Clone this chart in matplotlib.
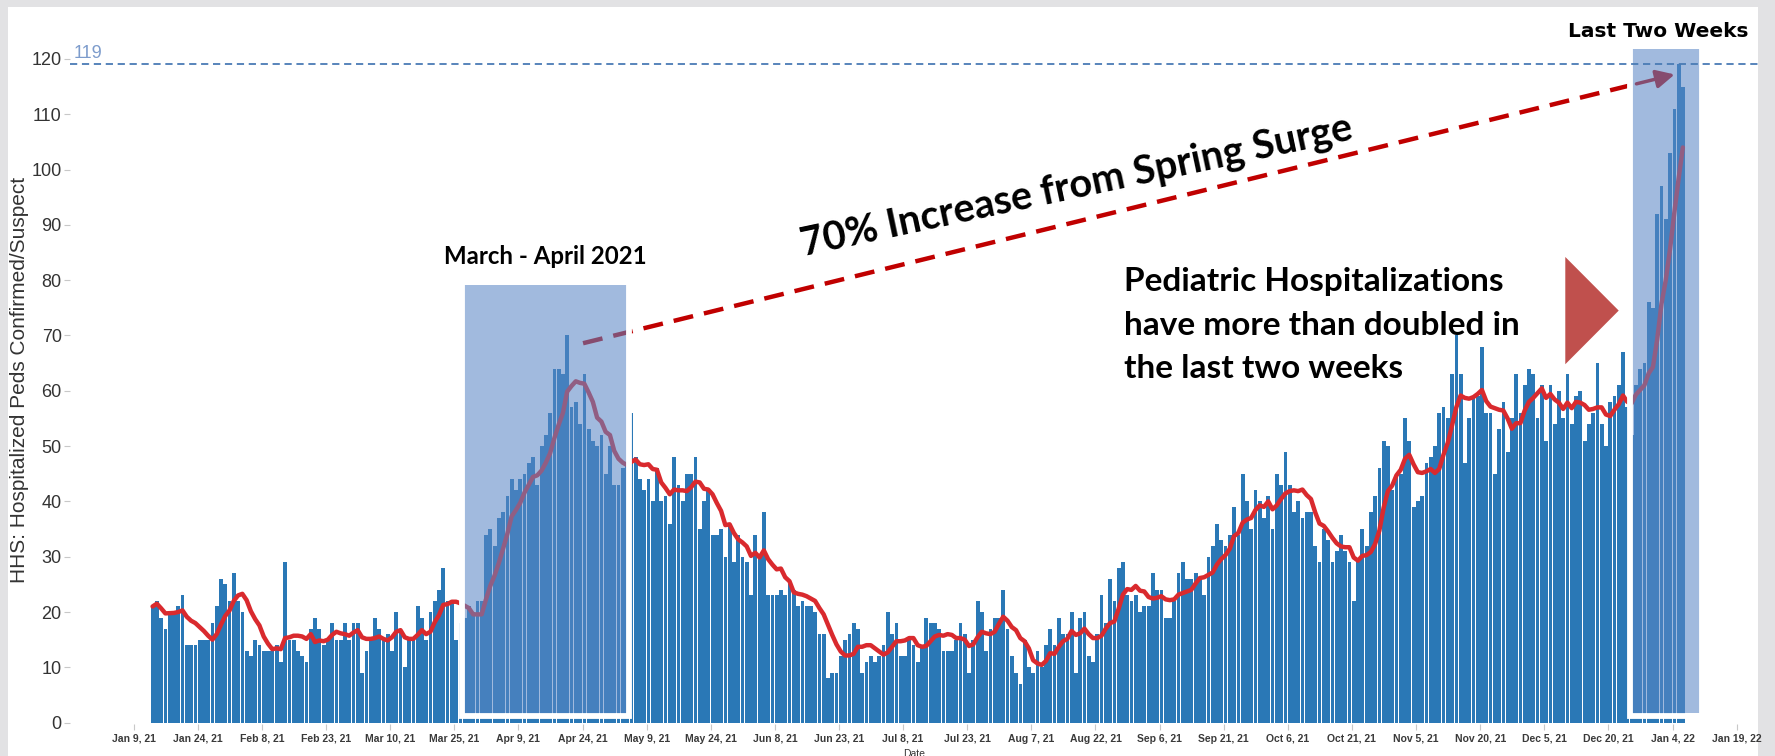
import numpy as np
import pandas as pd
import matplotlib
matplotlib.use('Agg')
import matplotlib.pyplot as plt
import matplotlib.dates as mdates
from matplotlib.patches import Rectangle, Polygon

# daily pediatric hospitalizations (confirmed + suspected), starting Jan 13, 2021
start_date = '2021-01-13'
peds = [
    21, 22, 19, 17, 20, 20, 21, 23, 14, 14, 14, 15, 15, 15,
    18, 21, 26, 25, 22, 27, 22, 20, 13, 12, 15, 14, 13, 13, 13, 14, 11, 29,
    15, 15, 13, 12, 11, 17, 19, 17, 14, 15, 18, 15, 15, 18, 15, 18, 18,
    9, 13, 15, 19, 17, 15, 16, 13, 20, 17, 10,
    15, 15, 21, 19, 15, 20, 22, 24, 28, 22, 22, 15, 18,
    19, 21, 20, 22, 22, 34, 35, 32, 37, 38, 41, 44, 42, 44, 45, 47, 48, 43, 50, 52,
    56, 64, 64, 63, 70, 57, 58, 54, 63, 53, 51, 50, 52, 45, 50, 43, 43, 46, 47,
    56, 48, 44, 42, 44, 40,
    46, 40, 41, 36, 48, 43, 40, 45, 45, 48, 35, 40, 42, 34, 34, 35, 30, 36, 29, 34,
    30, 29, 23, 34, 30, 38, 23, 23, 23, 24, 23, 25, 24, 21, 22, 21, 21, 20, 16, 16,
    8, 9, 9, 12, 15, 16, 18, 17, 9, 11, 12, 11, 12, 14, 20, 16, 18, 12, 12, 15,
    14, 11, 14, 19, 18, 18, 17, 13, 13, 13, 15, 18, 16, 9, 15, 22, 20, 13, 17, 19,
    19, 24, 17, 12, 9, 7, 15, 10, 9, 13, 10, 14, 17, 14, 19, 16, 16, 20, 9, 19,
    20, 12, 11, 16, 23, 18, 26, 22, 28, 29, 23, 22, 23, 20, 21, 21, 27, 24, 24,
    19, 19, 22, 27, 29, 26, 26, 27, 26, 23, 30, 32, 36, 33, 32, 34, 39, 34, 45, 40,
    35, 42, 40, 37, 41, 35, 45, 43, 49, 43, 38, 40, 37, 38, 38, 32, 29, 35, 33, 29,
    31, 34, 31, 29, 22, 29, 35, 32, 38, 41, 46, 51, 50, 42, 45, 45, 55, 51, 39, 40,
    41, 47, 48, 50, 56, 57, 55, 63, 70, 63, 47, 55, 59, 59, 68, 56, 56, 45, 53, 58,
    49, 55, 63, 56, 61, 64, 63, 55, 61, 51, 61, 54, 60, 55, 63, 54, 59, 60, 51, 54,
    56, 65, 54, 50, 58, 59, 61, 67, 57,
    52, 61, 64, 65, 76, 75, 92, 97, 91, 103, 111, 119, 115,
]
avg_window = 7
peak_value = 119

tick_dates = ['2021-01-09', '2021-01-24', '2021-02-08', '2021-02-23', '2021-03-10',
              '2021-03-25', '2021-04-09', '2021-04-24', '2021-05-09', '2021-05-24',
              '2021-06-08', '2021-06-23', '2021-07-08', '2021-07-23', '2021-08-07',
              '2021-08-22', '2021-09-06', '2021-09-21', '2021-10-06', '2021-10-21',
              '2021-11-05', '2021-11-20', '2021-12-05', '2021-12-20', '2022-01-04',
              '2022-01-19']
y_ticks = [0, 10, 20, 30, 40, 50, 60, 70, 80, 90, 100, 110, 120]

dates = pd.date_range(start_date, periods=len(peds), freq='D')
avg = pd.Series(peds).rolling(avg_window, min_periods=1).mean()

W, H = 1775, 756
fig = plt.figure(figsize=(W / 100, H / 100), dpi=100)
fig.patch.set_facecolor('#e2e2e4')
fig.add_artist(Rectangle((8 / W, 0), (1758 - 8) / W, 1 - 7 / H, transform=fig.transFigure,
                         facecolor='white', edgecolor='none', zorder=0))

ax = fig.add_axes([70 / W, 1 - 724 / H, (1758 - 70) / W, (724 - 36) / H])
ax.set_facecolor('none')

d = mdates.date2num
x0 = d(pd.Timestamp('2021-01-09')) - 14.9
x1 = d(pd.Timestamp('2022-01-19')) + 5.0
ax.set_xlim(x0, x1)
ax.set_ylim(-0.25, 124.15)

ax.bar(dates, peds, width=0.88, align='edge', color='#2a78b6', zorder=2)
ax.plot(dates + pd.Timedelta(hours=10), avg, color='#d92a2e', lw=3.2, zorder=3,
        solid_joinstyle='round', solid_capstyle='round')

# spring surge -> last two weeks dashed arrow
a_start = (d(pd.Timestamp('2021-04-24 03:00')), 68.6)
a_end = (d(pd.Timestamp('2022-01-04 12:00')), 117.2)
t = 0.965
a_mid = (a_start[0] + t * (a_end[0] - a_start[0]), a_start[1] + t * (a_end[1] - a_start[1]))
ax.plot([a_start[0], a_mid[0]], [a_start[1], a_mid[1]], color='#c00000', lw=3.2,
        ls=(0, (4.5, 2.5)), zorder=4, solid_capstyle='butt')
ax.annotate('', xy=a_end, xytext=a_mid, zorder=4,
            arrowprops=dict(arrowstyle='-|>,head_length=1.1,head_width=0.55',
                            color='#c00000', lw=2.5, shrinkA=0, shrinkB=0))

# highlight boxes
boxes = [(pd.Timestamp('2021-03-27 02:00'), pd.Timestamp('2021-05-04 12:00'), 1.7, 79.1),
         (pd.Timestamp('2021-12-25 12:00'), pd.Timestamp('2022-01-10 14:00'), 1.7, 121.8)]
for b0, b1, y0, y1 in boxes:
    ax.add_patch(Rectangle((d(b0), y0), d(b1) - d(b0), y1 - y0, facecolor='#5b87c5',
                           alpha=0.57, edgecolor='none', zorder=5))
    ax.add_patch(Rectangle((d(b0) - 0.35, y0 - 0.5), d(b1) - d(b0) + 0.7, y1 - y0 + 1.0,
                           fill=False, edgecolor='white', lw=4.2, zorder=6))

# reference line at the peak
ax.axhline(peak_value, color='#4a7bb5', lw=1.3, ls=(0, (4, 2.6)), zorder=6)
ax.text(0.002, peak_value + 0.5, str(peak_value), transform=ax.get_yaxis_transform(),
        fontsize=13, color='#7d9ccc', family='Liberation Sans', ha='left', va='bottom')

# triangle marker
tri = Polygon([(d(pd.Timestamp('2021-12-09 22:00')), 84.2),
               (d(pd.Timestamp('2021-12-09 22:00')), 64.8),
               (d(pd.Timestamp('2021-12-22 10:00')), 74.5)],
              closed=True, facecolor='#c0504d', edgecolor='none', zorder=7)
ax.add_patch(tri)

bold = dict(family='Lato', fontweight='bold', color='black', zorder=8)
ax.text(d(pd.Timestamp('2021-04-15 05:00')), 83.0, 'March - April 2021', ha='center',
        va='baseline', fontsize=17.3, **bold)
ax.text(d(pd.Timestamp('2021-08-17 14:00')), 97.0, '70% Increase from Spring Surge',
        ha='center', va='center', rotation=12.0, rotation_mode='anchor', fontsize=28.5, **bold)
for line, yv in zip(['Pediatric Hospitalizations', 'have more than doubled in',
                     'the last two weeks'], [78.0, 70.1, 62.3]):
    ax.text(d(pd.Timestamp('2021-08-28 16:00')), yv, line, ha='left', va='baseline',
            fontsize=24, **bold)
ax.text(d(pd.Timestamp('2021-12-31 17:00')), 124.0, 'Last Two Weeks', ha='center',
        va='baseline', fontsize=14.5, family='DejaVu Sans', fontweight='bold',
        color='black', zorder=8)

# axes styling
for s in ax.spines.values():
    s.set_visible(False)
ax.set_xticks([d(pd.Timestamp(t)) for t in tick_dates])
ax.set_xticklabels([f"{pd.Timestamp(t):%b} {pd.Timestamp(t).day}, {pd.Timestamp(t):%y}"
                    for t in tick_dates], fontsize=7.5, color='#3a3a3a',
                   family='Liberation Sans', fontweight='bold')
ax.set_yticks(y_ticks)
ax.set_yticklabels([str(v) for v in y_ticks], fontsize=13, color='#333333',
                   family='Liberation Sans')
ax.tick_params(axis='x', length=4, width=0.8, color='#c8c8c8', pad=3)
ax.tick_params(axis='y', length=4, width=0.8, color='#c8c8c8', pad=2)
ax.set_ylabel('HHS: Hospitalized Peds Confirmed/Suspect', fontsize=15, color='#333333',
              family='Liberation Sans')
ax.yaxis.set_label_coords((29 - 70) / 1688, 0.5)
ax.set_xlabel('Date', fontsize=7.5, color='#333333', family='Liberation Sans')
ax.xaxis.set_label_coords(0.5, -(749 - 724) / 688)

fig.savefig('out.png', dpi=100, facecolor=fig.get_facecolor())
